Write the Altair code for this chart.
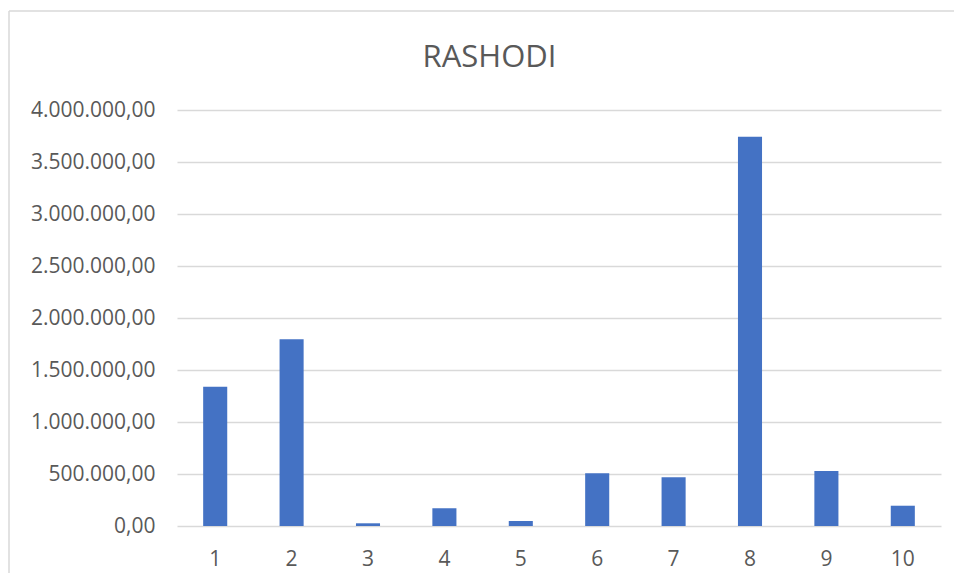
import altair as alt
import pandas as pd

categories = ["1", "2", "3", "4", "5", "6", "7", "8", "9", "10"]
values = [1340000, 1795000, 26000, 170000, 48000, 507000, 468000, 3743000, 529000, 195000]
y_ticks = [0, 500000, 1000000, 1500000, 2000000, 2500000, 3000000, 3500000, 4000000]
title_text = "RASHODI"

df = pd.DataFrame({"cat": categories, "val": values})

FONT = "Open Sans"
GRAY = "#595959"
BORDER = "#d9d9d9"

label_expr = ("replace(replace(replace(format(datum.value, ',.2f'), regexp(',', 'g'), '#'), "
              "'.', ','), regexp('#', 'g'), '.')")

bars = alt.Chart(df).mark_bar(color="#4472C4").encode(
    x=alt.X("cat:N", sort=categories,
            scale=alt.Scale(paddingInner=0.685, paddingOuter=0.3425),
            axis=alt.Axis(title=None, labelAngle=0, ticks=False, domain=False,
                          labelFont=FONT, labelFontSize=21, labelColor=GRAY,
                          labelPadding=22, grid=False)),
    y=alt.Y("val:Q", scale=alt.Scale(domain=[0, 4000000], nice=False),
            axis=alt.Axis(title=None, values=y_ticks, ticks=False, domain=False,
                          labelFont=FONT, labelFontSize=21, labelColor=GRAY,
                          labelPadding=22, gridColor=BORDER, gridWidth=1.3,
                          labelExpr=label_expr)),
)

one = pd.DataFrame({"a": [0]})

border_top = alt.Chart(one).mark_rule(color=BORDER, strokeWidth=1.5).encode(
    x=alt.value(-168), x2=alt.value(790), y=alt.value(-99)
)
border_left = alt.Chart(one).mark_rule(color=BORDER, strokeWidth=1.5).encode(
    x=alt.value(-168), y=alt.value(-99), y2=alt.value(470)
)
title = alt.Chart(pd.DataFrame({"t": [title_text]})).mark_text(
    font=FONT, fontSize=31, color=GRAY, align="center", baseline="alphabetic"
).encode(
    text="t:N", x=alt.value(312.5), y=alt.value(-43)
)

chart = alt.layer(border_top, border_left, bars, title).properties(
    width=764,
    height=416,
    background="white",
    autosize=alt.AutoSizeParams(type="none"),
    padding={"left": 169, "top": 102, "right": 13, "bottom": 47},
).configure_view(stroke="transparent", strokeWidth=0)

chart.save("out.html", embed_options={"renderer": "svg", "actions": False})
